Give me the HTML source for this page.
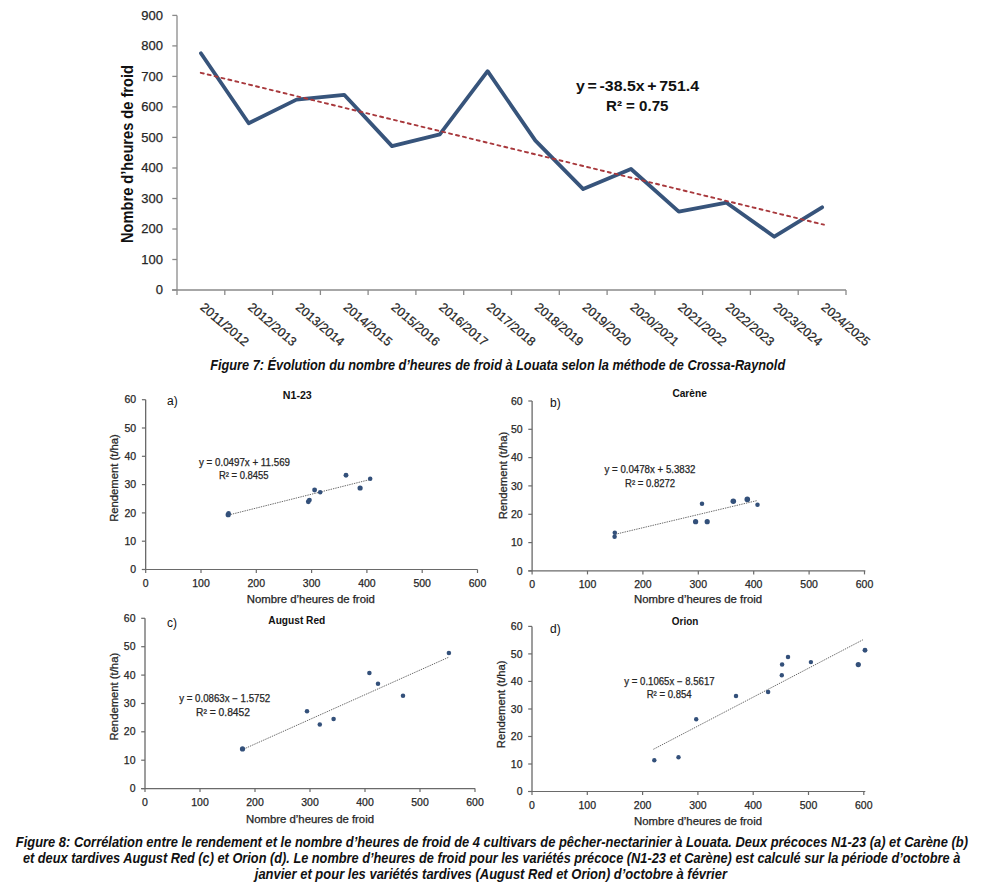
<!DOCTYPE html>
<html><head><meta charset="utf-8"><style>
html,body{margin:0;padding:0;background:#fff;width:981px;height:886px;overflow:hidden}
svg{display:block}
text{font-family:"Liberation Sans", sans-serif}
.th{stroke:#262626;stroke-width:0.25px}
</style></head><body>
<svg width="981" height="886" viewBox="0 0 981 886">
<rect width="981" height="886" fill="#fff"/>
<line x1="177" y1="15.4" x2="177" y2="290.0" stroke="#8a8a8a" stroke-width="1.3"/>
<line x1="172.3" y1="290.0" x2="177" y2="290.0" stroke="#8a8a8a" stroke-width="1.3"/>
<text x="162.9" y="294.4" text-anchor="end" font-size="13" fill="#262626" class="th">0</text>
<line x1="172.3" y1="259.5" x2="177" y2="259.5" stroke="#8a8a8a" stroke-width="1.3"/>
<text x="162.9" y="263.9" text-anchor="end" font-size="13" fill="#262626" class="th">100</text>
<line x1="172.3" y1="229.0" x2="177" y2="229.0" stroke="#8a8a8a" stroke-width="1.3"/>
<text x="162.9" y="233.4" text-anchor="end" font-size="13" fill="#262626" class="th">200</text>
<line x1="172.3" y1="198.5" x2="177" y2="198.5" stroke="#8a8a8a" stroke-width="1.3"/>
<text x="162.9" y="202.9" text-anchor="end" font-size="13" fill="#262626" class="th">300</text>
<line x1="172.3" y1="168.0" x2="177" y2="168.0" stroke="#8a8a8a" stroke-width="1.3"/>
<text x="162.9" y="172.4" text-anchor="end" font-size="13" fill="#262626" class="th">400</text>
<line x1="172.3" y1="137.4" x2="177" y2="137.4" stroke="#8a8a8a" stroke-width="1.3"/>
<text x="162.9" y="141.8" text-anchor="end" font-size="13" fill="#262626" class="th">500</text>
<line x1="172.3" y1="106.9" x2="177" y2="106.9" stroke="#8a8a8a" stroke-width="1.3"/>
<text x="162.9" y="111.3" text-anchor="end" font-size="13" fill="#262626" class="th">600</text>
<line x1="172.3" y1="76.4" x2="177" y2="76.4" stroke="#8a8a8a" stroke-width="1.3"/>
<text x="162.9" y="80.8" text-anchor="end" font-size="13" fill="#262626" class="th">700</text>
<line x1="172.3" y1="45.9" x2="177" y2="45.9" stroke="#8a8a8a" stroke-width="1.3"/>
<text x="162.9" y="50.3" text-anchor="end" font-size="13" fill="#262626" class="th">800</text>
<line x1="172.3" y1="15.4" x2="177" y2="15.4" stroke="#8a8a8a" stroke-width="1.3"/>
<text x="162.9" y="19.8" text-anchor="end" font-size="13" fill="#262626" class="th">900</text>
<line x1="172" y1="290.0" x2="846" y2="290.0" stroke="#8a8a8a" stroke-width="1.3"/>
<line x1="177.0" y1="290.0" x2="177.0" y2="295.0" stroke="#8a8a8a" stroke-width="1.3"/>
<line x1="224.8" y1="290.0" x2="224.8" y2="295.0" stroke="#8a8a8a" stroke-width="1.3"/>
<line x1="272.6" y1="290.0" x2="272.6" y2="295.0" stroke="#8a8a8a" stroke-width="1.3"/>
<line x1="320.4" y1="290.0" x2="320.4" y2="295.0" stroke="#8a8a8a" stroke-width="1.3"/>
<line x1="368.1" y1="290.0" x2="368.1" y2="295.0" stroke="#8a8a8a" stroke-width="1.3"/>
<line x1="415.9" y1="290.0" x2="415.9" y2="295.0" stroke="#8a8a8a" stroke-width="1.3"/>
<line x1="463.7" y1="290.0" x2="463.7" y2="295.0" stroke="#8a8a8a" stroke-width="1.3"/>
<line x1="511.5" y1="290.0" x2="511.5" y2="295.0" stroke="#8a8a8a" stroke-width="1.3"/>
<line x1="559.3" y1="290.0" x2="559.3" y2="295.0" stroke="#8a8a8a" stroke-width="1.3"/>
<line x1="607.1" y1="290.0" x2="607.1" y2="295.0" stroke="#8a8a8a" stroke-width="1.3"/>
<line x1="654.9" y1="290.0" x2="654.9" y2="295.0" stroke="#8a8a8a" stroke-width="1.3"/>
<line x1="702.6" y1="290.0" x2="702.6" y2="295.0" stroke="#8a8a8a" stroke-width="1.3"/>
<line x1="750.4" y1="290.0" x2="750.4" y2="295.0" stroke="#8a8a8a" stroke-width="1.3"/>
<line x1="798.2" y1="290.0" x2="798.2" y2="295.0" stroke="#8a8a8a" stroke-width="1.3"/>
<line x1="846.0" y1="290.0" x2="846.0" y2="295.0" stroke="#8a8a8a" stroke-width="1.3"/>
<polyline points="200.9,53.2 248.7,123.2 296.5,99.6 344.2,94.8 392.0,146.1 439.8,134.3 487.6,71.2 535.4,140.7 583.2,189.1 631.0,169.0 678.8,211.6 726.5,202.7 774.3,236.7 822.1,207.3" fill="none" stroke="#37547b" stroke-width="3.8" stroke-linejoin="round" stroke-linecap="round"/>
<line x1="200.8" y1="72.8" x2="823.9" y2="224.7" stroke="#a8383c" stroke-width="1.9" stroke-dasharray="3 4.1" stroke-linecap="round"/>
<text transform="translate(199.4,308.5) rotate(40.5)" font-size="12.5" fill="#262626" class="th" textLength="59" lengthAdjust="spacingAndGlyphs">2011/2012</text>
<text transform="translate(247.2,308.5) rotate(40.5)" font-size="12.5" fill="#262626" class="th" textLength="59" lengthAdjust="spacingAndGlyphs">2012/2013</text>
<text transform="translate(295.0,308.5) rotate(40.5)" font-size="12.5" fill="#262626" class="th" textLength="59" lengthAdjust="spacingAndGlyphs">2013/2014</text>
<text transform="translate(342.8,308.5) rotate(40.5)" font-size="12.5" fill="#262626" class="th" textLength="59" lengthAdjust="spacingAndGlyphs">2014/2015</text>
<text transform="translate(390.5,308.5) rotate(40.5)" font-size="12.5" fill="#262626" class="th" textLength="59" lengthAdjust="spacingAndGlyphs">2015/2016</text>
<text transform="translate(438.3,308.5) rotate(40.5)" font-size="12.5" fill="#262626" class="th" textLength="59" lengthAdjust="spacingAndGlyphs">2016/2017</text>
<text transform="translate(486.1,308.5) rotate(40.5)" font-size="12.5" fill="#262626" class="th" textLength="59" lengthAdjust="spacingAndGlyphs">2017/2018</text>
<text transform="translate(533.9,308.5) rotate(40.5)" font-size="12.5" fill="#262626" class="th" textLength="59" lengthAdjust="spacingAndGlyphs">2018/2019</text>
<text transform="translate(581.7,308.5) rotate(40.5)" font-size="12.5" fill="#262626" class="th" textLength="59" lengthAdjust="spacingAndGlyphs">2019/2020</text>
<text transform="translate(629.5,308.5) rotate(40.5)" font-size="12.5" fill="#262626" class="th" textLength="59" lengthAdjust="spacingAndGlyphs">2020/2021</text>
<text transform="translate(677.2,308.5) rotate(40.5)" font-size="12.5" fill="#262626" class="th" textLength="59" lengthAdjust="spacingAndGlyphs">2021/2022</text>
<text transform="translate(725.0,308.5) rotate(40.5)" font-size="12.5" fill="#262626" class="th" textLength="59" lengthAdjust="spacingAndGlyphs">2022/2023</text>
<text transform="translate(772.8,308.5) rotate(40.5)" font-size="12.5" fill="#262626" class="th" textLength="59" lengthAdjust="spacingAndGlyphs">2023/2024</text>
<text transform="translate(820.6,308.5) rotate(40.5)" font-size="12.5" fill="#262626" class="th" textLength="59" lengthAdjust="spacingAndGlyphs">2024/2025</text>
<text transform="translate(132.8,154) rotate(-90)" text-anchor="middle" font-size="16" font-weight="bold" fill="#111" textLength="178" lengthAdjust="spacingAndGlyphs">Nombre d&#8217;heures de froid</text>
<text x="576" y="90.5" font-size="14" font-weight="bold" fill="#111" textLength="123" lengthAdjust="spacingAndGlyphs" word-spacing="-1.5">y = -38.5x + 751.4</text>
<text x="606" y="111" font-size="14" font-weight="bold" fill="#111" textLength="62.5" lengthAdjust="spacingAndGlyphs">R&#178; = 0.75</text>
<text x="210.2" y="370.2" font-size="15.5" font-weight="bold" font-style="italic" fill="#111" textLength="575" lengthAdjust="spacingAndGlyphs">Figure 7: &#201;volution du nombre d&#8217;heures de froid &#224; Louata selon la m&#233;thode de Crossa-Raynold</text>
<line x1="145.7" y1="399.7" x2="145.7" y2="569.5" stroke="#555" stroke-width="1.15"/>
<line x1="141.9" y1="569.5" x2="145.7" y2="569.5" stroke="#6a6a6a" stroke-width="1.2"/>
<text x="136.2" y="573.1" text-anchor="end" font-size="10.5" fill="#262626" class="th">0</text>
<line x1="141.9" y1="541.2" x2="145.7" y2="541.2" stroke="#6a6a6a" stroke-width="1.2"/>
<text x="136.2" y="544.8" text-anchor="end" font-size="10.5" fill="#262626" class="th">10</text>
<line x1="141.9" y1="512.9" x2="145.7" y2="512.9" stroke="#6a6a6a" stroke-width="1.2"/>
<text x="136.2" y="516.5" text-anchor="end" font-size="10.5" fill="#262626" class="th">20</text>
<line x1="141.9" y1="484.6" x2="145.7" y2="484.6" stroke="#6a6a6a" stroke-width="1.2"/>
<text x="136.2" y="488.2" text-anchor="end" font-size="10.5" fill="#262626" class="th">30</text>
<line x1="141.9" y1="456.3" x2="145.7" y2="456.3" stroke="#6a6a6a" stroke-width="1.2"/>
<text x="136.2" y="459.9" text-anchor="end" font-size="10.5" fill="#262626" class="th">40</text>
<line x1="141.9" y1="428.0" x2="145.7" y2="428.0" stroke="#6a6a6a" stroke-width="1.2"/>
<text x="136.2" y="431.6" text-anchor="end" font-size="10.5" fill="#262626" class="th">50</text>
<line x1="141.9" y1="399.7" x2="145.7" y2="399.7" stroke="#6a6a6a" stroke-width="1.2"/>
<text x="136.2" y="403.3" text-anchor="end" font-size="10.5" fill="#262626" class="th">60</text>
<line x1="141.9" y1="569.5" x2="477.5" y2="569.5" stroke="#6a6a6a" stroke-width="1.2"/>
<line x1="145.7" y1="569.5" x2="145.7" y2="573.0" stroke="#6a6a6a" stroke-width="1.2"/>
<text x="145.7" y="586.5" text-anchor="middle" font-size="10.5" fill="#262626" class="th">0</text>
<line x1="201.0" y1="569.5" x2="201.0" y2="573.0" stroke="#6a6a6a" stroke-width="1.2"/>
<text x="201.0" y="586.5" text-anchor="middle" font-size="10.5" fill="#262626" class="th">100</text>
<line x1="256.3" y1="569.5" x2="256.3" y2="573.0" stroke="#6a6a6a" stroke-width="1.2"/>
<text x="256.3" y="586.5" text-anchor="middle" font-size="10.5" fill="#262626" class="th">200</text>
<line x1="311.6" y1="569.5" x2="311.6" y2="573.0" stroke="#6a6a6a" stroke-width="1.2"/>
<text x="311.6" y="586.5" text-anchor="middle" font-size="10.5" fill="#262626" class="th">300</text>
<line x1="366.9" y1="569.5" x2="366.9" y2="573.0" stroke="#6a6a6a" stroke-width="1.2"/>
<text x="366.9" y="586.5" text-anchor="middle" font-size="10.5" fill="#262626" class="th">400</text>
<line x1="422.2" y1="569.5" x2="422.2" y2="573.0" stroke="#6a6a6a" stroke-width="1.2"/>
<text x="422.2" y="586.5" text-anchor="middle" font-size="10.5" fill="#262626" class="th">500</text>
<line x1="477.5" y1="569.5" x2="477.5" y2="573.0" stroke="#6a6a6a" stroke-width="1.2"/>
<text x="477.5" y="586.5" text-anchor="middle" font-size="10.5" fill="#262626" class="th">600</text>
<text x="246.8" y="603.1" font-size="10" fill="#262626" class="th" textLength="128" lengthAdjust="spacingAndGlyphs">Nombre d&#8217;heures de froid</text>
<text transform="translate(118.2,478) rotate(-90)" text-anchor="middle" font-size="10" fill="#262626" class="th" textLength="87.7" lengthAdjust="spacingAndGlyphs">Rendement (t/ha)</text>
<text x="282.8" y="398.5" font-size="10" font-weight="bold" fill="#111" textLength="29" lengthAdjust="spacingAndGlyphs">N1-23</text>
<text x="167" y="405" font-size="12" fill="#111">a)</text>
<line x1="228.2" y1="515.1" x2="370.2" y2="479.5" stroke="#6a6a6a" stroke-width="1" stroke-dasharray="1.4 1"/>
<circle cx="228.2" cy="514.7" r="2.61" fill="#33507a"/>
<circle cx="228.6" cy="513.2" r="2.262" fill="#33507a"/>
<circle cx="308.3" cy="501.7" r="2.436" fill="#33507a"/>
<circle cx="309.4" cy="500.1" r="2.436" fill="#33507a"/>
<circle cx="314.6" cy="490" r="2.436" fill="#33507a"/>
<circle cx="320.2" cy="492.3" r="2.262" fill="#33507a"/>
<circle cx="346" cy="475.2" r="2.436" fill="#33507a"/>
<circle cx="360.1" cy="488" r="2.61" fill="#33507a"/>
<circle cx="370.2" cy="478.8" r="2.262" fill="#33507a"/>
<text x="199" y="465.5" font-size="10" fill="#262626" class="th" textLength="91" lengthAdjust="spacingAndGlyphs">y = 0.0497x + 11.569</text>
<text x="219" y="478.8" font-size="10" fill="#262626" class="th" textLength="49.6" lengthAdjust="spacingAndGlyphs">R&#178; = 0.8455</text>
<line x1="532.1" y1="401" x2="532.1" y2="570.9" stroke="#555" stroke-width="1.15"/>
<line x1="528.3" y1="570.9" x2="532.1" y2="570.9" stroke="#6a6a6a" stroke-width="1.2"/>
<text x="522.6" y="574.5" text-anchor="end" font-size="10.5" fill="#262626" class="th">0</text>
<line x1="528.3" y1="542.6" x2="532.1" y2="542.6" stroke="#6a6a6a" stroke-width="1.2"/>
<text x="522.6" y="546.2" text-anchor="end" font-size="10.5" fill="#262626" class="th">10</text>
<line x1="528.3" y1="514.3" x2="532.1" y2="514.3" stroke="#6a6a6a" stroke-width="1.2"/>
<text x="522.6" y="517.9" text-anchor="end" font-size="10.5" fill="#262626" class="th">20</text>
<line x1="528.3" y1="485.9" x2="532.1" y2="485.9" stroke="#6a6a6a" stroke-width="1.2"/>
<text x="522.6" y="489.6" text-anchor="end" font-size="10.5" fill="#262626" class="th">30</text>
<line x1="528.3" y1="457.6" x2="532.1" y2="457.6" stroke="#6a6a6a" stroke-width="1.2"/>
<text x="522.6" y="461.2" text-anchor="end" font-size="10.5" fill="#262626" class="th">40</text>
<line x1="528.3" y1="429.3" x2="532.1" y2="429.3" stroke="#6a6a6a" stroke-width="1.2"/>
<text x="522.6" y="432.9" text-anchor="end" font-size="10.5" fill="#262626" class="th">50</text>
<line x1="528.3" y1="401.0" x2="532.1" y2="401.0" stroke="#6a6a6a" stroke-width="1.2"/>
<text x="522.6" y="404.6" text-anchor="end" font-size="10.5" fill="#262626" class="th">60</text>
<line x1="528.3" y1="570.9" x2="865.3" y2="570.9" stroke="#6a6a6a" stroke-width="1.2"/>
<line x1="532.1" y1="570.9" x2="532.1" y2="574.4" stroke="#6a6a6a" stroke-width="1.2"/>
<text x="532.1" y="587.9" text-anchor="middle" font-size="10.5" fill="#262626" class="th">0</text>
<line x1="587.5" y1="570.9" x2="587.5" y2="574.4" stroke="#6a6a6a" stroke-width="1.2"/>
<text x="587.5" y="587.9" text-anchor="middle" font-size="10.5" fill="#262626" class="th">100</text>
<line x1="642.9" y1="570.9" x2="642.9" y2="574.4" stroke="#6a6a6a" stroke-width="1.2"/>
<text x="642.9" y="587.9" text-anchor="middle" font-size="10.5" fill="#262626" class="th">200</text>
<line x1="698.3" y1="570.9" x2="698.3" y2="574.4" stroke="#6a6a6a" stroke-width="1.2"/>
<text x="698.3" y="587.9" text-anchor="middle" font-size="10.5" fill="#262626" class="th">300</text>
<line x1="753.7" y1="570.9" x2="753.7" y2="574.4" stroke="#6a6a6a" stroke-width="1.2"/>
<text x="753.7" y="587.9" text-anchor="middle" font-size="10.5" fill="#262626" class="th">400</text>
<line x1="809.1" y1="570.9" x2="809.1" y2="574.4" stroke="#6a6a6a" stroke-width="1.2"/>
<text x="809.1" y="587.9" text-anchor="middle" font-size="10.5" fill="#262626" class="th">500</text>
<line x1="864.5" y1="570.9" x2="864.5" y2="574.4" stroke="#6a6a6a" stroke-width="1.2"/>
<text x="864.5" y="587.9" text-anchor="middle" font-size="10.5" fill="#262626" class="th">600</text>
<text x="634.1" y="603.1" font-size="10" fill="#262626" class="th" textLength="128" lengthAdjust="spacingAndGlyphs">Nombre d&#8217;heures de froid</text>
<text transform="translate(506.6,475.5) rotate(-90)" text-anchor="middle" font-size="10" fill="#262626" class="th" textLength="87.7" lengthAdjust="spacingAndGlyphs">Rendement (t/ha)</text>
<text x="672.4" y="397.2" font-size="10" font-weight="bold" fill="#111" textLength="34.4" lengthAdjust="spacingAndGlyphs">Car&#232;ne</text>
<text x="550" y="407" font-size="12" fill="#111">b)</text>
<line x1="615.2" y1="534.3" x2="756.6" y2="500.7" stroke="#6a6a6a" stroke-width="1" stroke-dasharray="1.4 1"/>
<circle cx="614.8" cy="532.7" r="2.262" fill="#33507a"/>
<circle cx="614.6" cy="536.8" r="2.262" fill="#33507a"/>
<circle cx="702" cy="503.8" r="2.262" fill="#33507a"/>
<circle cx="695.6" cy="521.7" r="2.61" fill="#33507a"/>
<circle cx="707.2" cy="521.7" r="2.61" fill="#33507a"/>
<circle cx="733.3" cy="501.3" r="2.7840000000000003" fill="#33507a"/>
<circle cx="747.3" cy="499.4" r="2.7840000000000003" fill="#33507a"/>
<circle cx="757.5" cy="504.8" r="2.262" fill="#33507a"/>
<text x="604.5" y="472.5" font-size="10" fill="#262626" class="th" textLength="91" lengthAdjust="spacingAndGlyphs">y = 0.0478x + 5.3832</text>
<text x="625" y="486.5" font-size="10" fill="#262626" class="th" textLength="50.2" lengthAdjust="spacingAndGlyphs">R&#178; = 0.8272</text>
<line x1="145" y1="618.3" x2="145" y2="788.6" stroke="#555" stroke-width="1.15"/>
<line x1="141.2" y1="788.6" x2="145" y2="788.6" stroke="#6a6a6a" stroke-width="1.2"/>
<text x="135.5" y="792.2" text-anchor="end" font-size="10.5" fill="#262626" class="th">0</text>
<line x1="141.2" y1="760.2" x2="145" y2="760.2" stroke="#6a6a6a" stroke-width="1.2"/>
<text x="135.5" y="763.8" text-anchor="end" font-size="10.5" fill="#262626" class="th">10</text>
<line x1="141.2" y1="731.8" x2="145" y2="731.8" stroke="#6a6a6a" stroke-width="1.2"/>
<text x="135.5" y="735.4" text-anchor="end" font-size="10.5" fill="#262626" class="th">20</text>
<line x1="141.2" y1="703.5" x2="145" y2="703.5" stroke="#6a6a6a" stroke-width="1.2"/>
<text x="135.5" y="707.1" text-anchor="end" font-size="10.5" fill="#262626" class="th">30</text>
<line x1="141.2" y1="675.1" x2="145" y2="675.1" stroke="#6a6a6a" stroke-width="1.2"/>
<text x="135.5" y="678.7" text-anchor="end" font-size="10.5" fill="#262626" class="th">40</text>
<line x1="141.2" y1="646.7" x2="145" y2="646.7" stroke="#6a6a6a" stroke-width="1.2"/>
<text x="135.5" y="650.3" text-anchor="end" font-size="10.5" fill="#262626" class="th">50</text>
<line x1="141.2" y1="618.3" x2="145" y2="618.3" stroke="#6a6a6a" stroke-width="1.2"/>
<text x="135.5" y="621.9" text-anchor="end" font-size="10.5" fill="#262626" class="th">60</text>
<line x1="141.2" y1="788.6" x2="475.1" y2="788.6" stroke="#6a6a6a" stroke-width="1.2"/>
<line x1="145.0" y1="788.6" x2="145.0" y2="792.1" stroke="#6a6a6a" stroke-width="1.2"/>
<text x="145.0" y="805.6" text-anchor="middle" font-size="10.5" fill="#262626" class="th">0</text>
<line x1="200.0" y1="788.6" x2="200.0" y2="792.1" stroke="#6a6a6a" stroke-width="1.2"/>
<text x="200.0" y="805.6" text-anchor="middle" font-size="10.5" fill="#262626" class="th">100</text>
<line x1="255.0" y1="788.6" x2="255.0" y2="792.1" stroke="#6a6a6a" stroke-width="1.2"/>
<text x="255.0" y="805.6" text-anchor="middle" font-size="10.5" fill="#262626" class="th">200</text>
<line x1="310.0" y1="788.6" x2="310.0" y2="792.1" stroke="#6a6a6a" stroke-width="1.2"/>
<text x="310.0" y="805.6" text-anchor="middle" font-size="10.5" fill="#262626" class="th">300</text>
<line x1="365.0" y1="788.6" x2="365.0" y2="792.1" stroke="#6a6a6a" stroke-width="1.2"/>
<text x="365.0" y="805.6" text-anchor="middle" font-size="10.5" fill="#262626" class="th">400</text>
<line x1="420.0" y1="788.6" x2="420.0" y2="792.1" stroke="#6a6a6a" stroke-width="1.2"/>
<text x="420.0" y="805.6" text-anchor="middle" font-size="10.5" fill="#262626" class="th">500</text>
<line x1="475.0" y1="788.6" x2="475.0" y2="792.1" stroke="#6a6a6a" stroke-width="1.2"/>
<text x="475.0" y="805.6" text-anchor="middle" font-size="10.5" fill="#262626" class="th">600</text>
<text x="246" y="823.1" font-size="10" fill="#262626" class="th" textLength="128" lengthAdjust="spacingAndGlyphs">Nombre d&#8217;heures de froid</text>
<text transform="translate(117.5,696.7) rotate(-90)" text-anchor="middle" font-size="10" fill="#262626" class="th" textLength="87.7" lengthAdjust="spacingAndGlyphs">Rendement (t/ha)</text>
<text x="268.3" y="624.3" font-size="10" font-weight="bold" fill="#111" textLength="57" lengthAdjust="spacingAndGlyphs">August Red</text>
<text x="167" y="626.5" font-size="12" fill="#111">c)</text>
<line x1="243.4" y1="749.2" x2="448.3" y2="657.4" stroke="#6a6a6a" stroke-width="1" stroke-dasharray="1.4 1"/>
<circle cx="242.5" cy="748.9" r="2.61" fill="#33507a"/>
<circle cx="307" cy="711.3" r="2.262" fill="#33507a"/>
<circle cx="319.8" cy="724.4" r="2.262" fill="#33507a"/>
<circle cx="333.6" cy="718.9" r="2.262" fill="#33507a"/>
<circle cx="369.4" cy="673" r="2.262" fill="#33507a"/>
<circle cx="378" cy="683.7" r="2.262" fill="#33507a"/>
<circle cx="403" cy="695.7" r="2.262" fill="#33507a"/>
<circle cx="448.9" cy="653.1" r="2.262" fill="#33507a"/>
<text x="179.2" y="702" font-size="10" fill="#262626" class="th" textLength="91" lengthAdjust="spacingAndGlyphs">y = 0.0863x &#8722; 1.5752</text>
<text x="196" y="716" font-size="10" fill="#262626" class="th" textLength="54" lengthAdjust="spacingAndGlyphs">R&#178; = 0.8452</text>
<line x1="532" y1="626.4" x2="532" y2="791.5" stroke="#555" stroke-width="1.15"/>
<line x1="528.2" y1="791.5" x2="532" y2="791.5" stroke="#6a6a6a" stroke-width="1.2"/>
<text x="522.5" y="795.1" text-anchor="end" font-size="10.5" fill="#262626" class="th">0</text>
<line x1="528.2" y1="764.0" x2="532" y2="764.0" stroke="#6a6a6a" stroke-width="1.2"/>
<text x="522.5" y="767.6" text-anchor="end" font-size="10.5" fill="#262626" class="th">10</text>
<line x1="528.2" y1="736.5" x2="532" y2="736.5" stroke="#6a6a6a" stroke-width="1.2"/>
<text x="522.5" y="740.1" text-anchor="end" font-size="10.5" fill="#262626" class="th">20</text>
<line x1="528.2" y1="709.0" x2="532" y2="709.0" stroke="#6a6a6a" stroke-width="1.2"/>
<text x="522.5" y="712.6" text-anchor="end" font-size="10.5" fill="#262626" class="th">30</text>
<line x1="528.2" y1="681.4" x2="532" y2="681.4" stroke="#6a6a6a" stroke-width="1.2"/>
<text x="522.5" y="685.0" text-anchor="end" font-size="10.5" fill="#262626" class="th">40</text>
<line x1="528.2" y1="653.9" x2="532" y2="653.9" stroke="#6a6a6a" stroke-width="1.2"/>
<text x="522.5" y="657.5" text-anchor="end" font-size="10.5" fill="#262626" class="th">50</text>
<line x1="528.2" y1="626.4" x2="532" y2="626.4" stroke="#6a6a6a" stroke-width="1.2"/>
<text x="522.5" y="630.0" text-anchor="end" font-size="10.5" fill="#262626" class="th">60</text>
<line x1="528.2" y1="791.5" x2="865.3" y2="791.5" stroke="#6a6a6a" stroke-width="1.2"/>
<line x1="532.0" y1="791.5" x2="532.0" y2="795.0" stroke="#6a6a6a" stroke-width="1.2"/>
<text x="532.0" y="808.5" text-anchor="middle" font-size="10.5" fill="#262626" class="th">0</text>
<line x1="587.3" y1="791.5" x2="587.3" y2="795.0" stroke="#6a6a6a" stroke-width="1.2"/>
<text x="587.3" y="808.5" text-anchor="middle" font-size="10.5" fill="#262626" class="th">100</text>
<line x1="642.6" y1="791.5" x2="642.6" y2="795.0" stroke="#6a6a6a" stroke-width="1.2"/>
<text x="642.6" y="808.5" text-anchor="middle" font-size="10.5" fill="#262626" class="th">200</text>
<line x1="697.9" y1="791.5" x2="697.9" y2="795.0" stroke="#6a6a6a" stroke-width="1.2"/>
<text x="697.9" y="808.5" text-anchor="middle" font-size="10.5" fill="#262626" class="th">300</text>
<line x1="753.2" y1="791.5" x2="753.2" y2="795.0" stroke="#6a6a6a" stroke-width="1.2"/>
<text x="753.2" y="808.5" text-anchor="middle" font-size="10.5" fill="#262626" class="th">400</text>
<line x1="808.5" y1="791.5" x2="808.5" y2="795.0" stroke="#6a6a6a" stroke-width="1.2"/>
<text x="808.5" y="808.5" text-anchor="middle" font-size="10.5" fill="#262626" class="th">500</text>
<line x1="863.8" y1="791.5" x2="863.8" y2="795.0" stroke="#6a6a6a" stroke-width="1.2"/>
<text x="863.8" y="808.5" text-anchor="middle" font-size="10.5" fill="#262626" class="th">600</text>
<text x="634" y="825.1" font-size="10" fill="#262626" class="th" textLength="128" lengthAdjust="spacingAndGlyphs">Nombre d&#8217;heures de froid</text>
<text transform="translate(504.5,704.3) rotate(-90)" text-anchor="middle" font-size="10" fill="#262626" class="th" textLength="87.7" lengthAdjust="spacingAndGlyphs">Rendement (t/ha)</text>
<text x="671.8" y="624.8" font-size="10" font-weight="bold" fill="#111" textLength="26.5" lengthAdjust="spacingAndGlyphs">Orion</text>
<text x="550" y="633" font-size="12" fill="#111">d)</text>
<line x1="653.4" y1="749.3" x2="862.9" y2="639.8" stroke="#6a6a6a" stroke-width="1" stroke-dasharray="1.4 1"/>
<circle cx="654.3" cy="760.3" r="2.2" fill="#33507a"/>
<circle cx="678.5" cy="757.2" r="2.2" fill="#33507a"/>
<circle cx="696.2" cy="719.3" r="2.2" fill="#33507a"/>
<circle cx="736" cy="696.1" r="2.262" fill="#33507a"/>
<circle cx="768.1" cy="692.1" r="2.262" fill="#33507a"/>
<circle cx="781.8" cy="675.3" r="2.2" fill="#33507a"/>
<circle cx="782.1" cy="664.6" r="2.262" fill="#33507a"/>
<circle cx="788" cy="656.9" r="2.262" fill="#33507a"/>
<circle cx="810.9" cy="662.1" r="2.2" fill="#33507a"/>
<circle cx="858.3" cy="664.6" r="2.61" fill="#33507a"/>
<circle cx="865" cy="650.2" r="2.436" fill="#33507a"/>
<text x="624.3" y="684.5" font-size="10" fill="#262626" class="th" textLength="90.3" lengthAdjust="spacingAndGlyphs">y = 0.1065x &#8722; 8.5617</text>
<text x="646.7" y="698.3" font-size="10" fill="#262626" class="th" textLength="45" lengthAdjust="spacingAndGlyphs">R&#178; = 0.854</text>
<text x="15.8" y="846.7" font-size="15.5" font-weight="bold" font-style="italic" fill="#111" textLength="952.2" lengthAdjust="spacingAndGlyphs">Figure 8: Corr&#233;lation entre le rendement et le nombre d&#8217;heures de froid de 4 cultivars de p&#234;cher-nectarinier &#224; Louata. Deux pr&#233;coces N1-23 (a) et Car&#232;ne (b)</text>
<text x="22.9" y="862.8" font-size="15.5" font-weight="bold" font-style="italic" fill="#111" textLength="937.4" lengthAdjust="spacingAndGlyphs">et deux tardives August Red (c) et Orion (d). Le nombre d&#8217;heures de froid pour les vari&#233;t&#233;s pr&#233;coce (N1-23 et Car&#232;ne) est calcul&#233; sur la p&#233;riode d&#8217;octobre &#224;</text>
<text x="254.8" y="878.6" font-size="15.5" font-weight="bold" font-style="italic" fill="#111" textLength="472.2" lengthAdjust="spacingAndGlyphs">janvier et pour les vari&#233;t&#233;s tardives (August Red et Orion) d&#8217;octobre &#224; f&#233;vrier</text>
</svg></body></html>
